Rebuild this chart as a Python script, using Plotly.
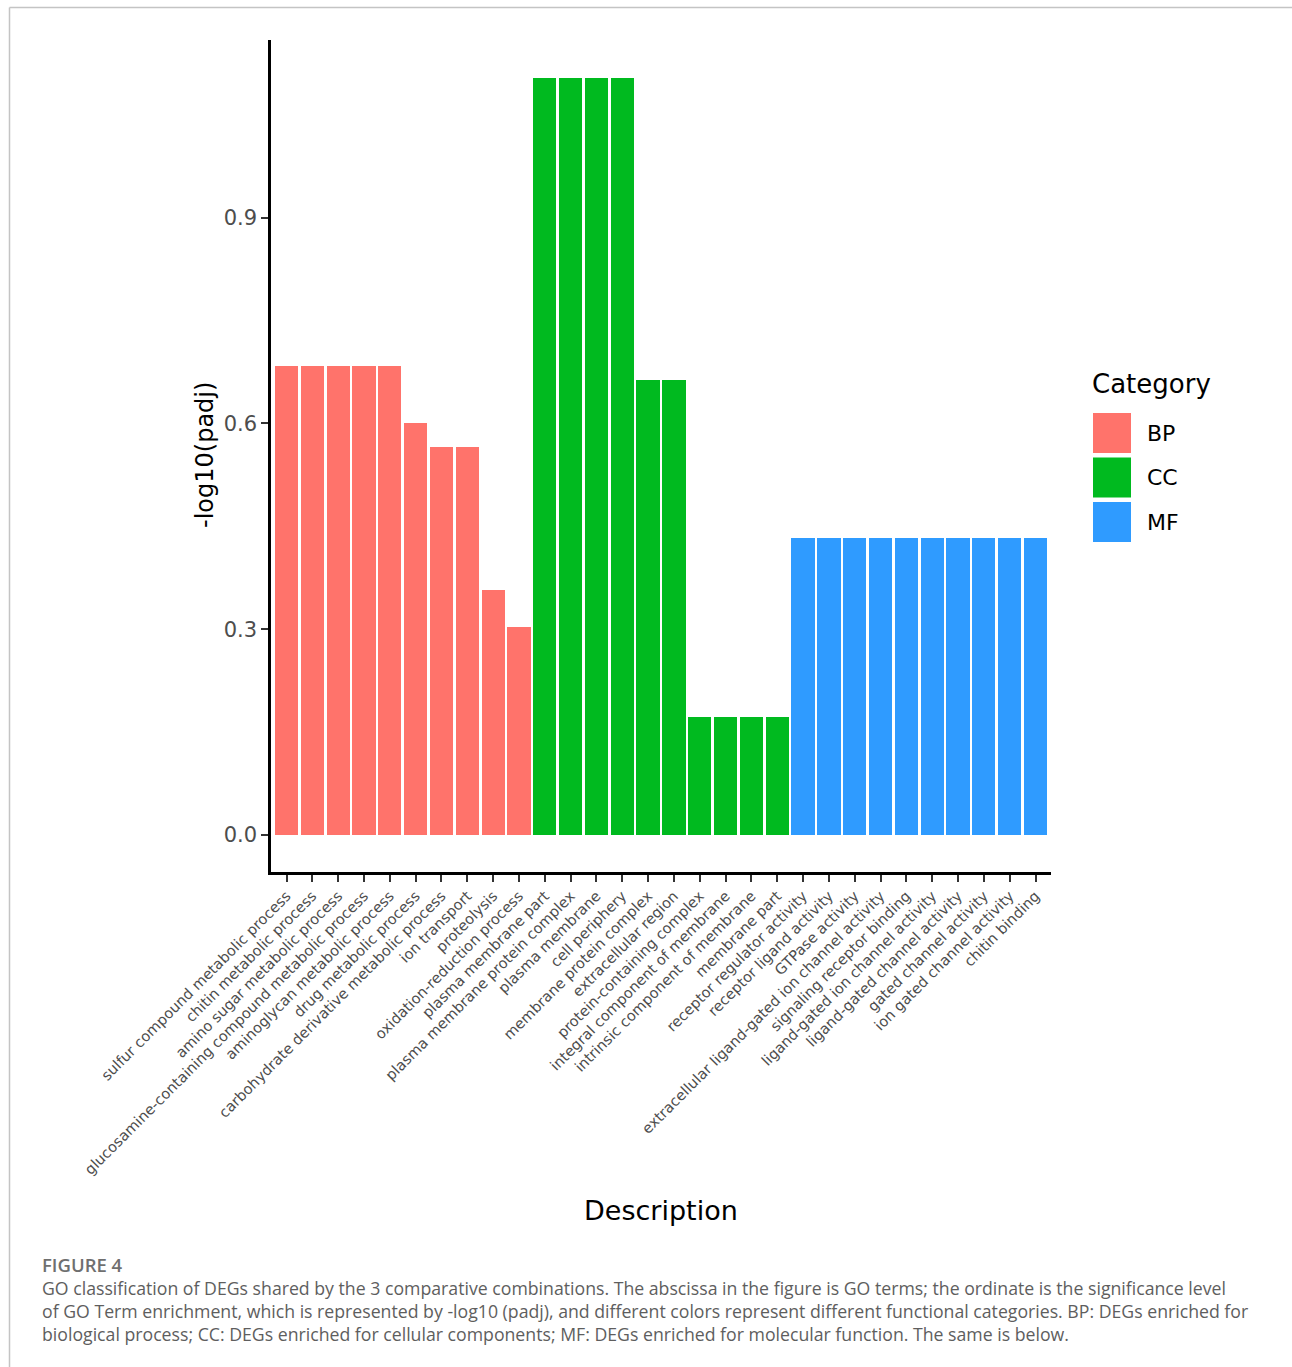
import plotly.graph_objects as go

# GO terms, their functional category and -log10(padj)
terms = [
    "sulfur compound metabolic process",
    "chitin metabolic process",
    "amino sugar metabolic process",
    "glucosamine-containing compound metabolic process",
    "aminoglycan metabolic process",
    "drug metabolic process",
    "carbohydrate derivative metabolic process",
    "ion transport",
    "proteolysis",
    "oxidation-reduction process",
    "plasma membrane part",
    "plasma membrane protein complex",
    "plasma membrane",
    "cell periphery",
    "membrane protein complex",
    "extracellular region",
    "protein-containing complex",
    "integral component of membrane",
    "intrinsic component of membrane",
    "membrane part",
    "receptor regulator activity",
    "receptor ligand activity",
    "GTPase activity",
    "extracellular ligand-gated ion channel activity",
    "signaling receptor binding",
    "ligand-gated ion channel activity",
    "ligand-gated channel activity",
    "gated channel activity",
    "ion gated channel activity",
    "chitin binding",
]
category = [
    "BP", "BP", "BP", "BP", "BP", "BP", "BP", "BP", "BP", "BP",
    "CC", "CC", "CC", "CC", "CC", "CC", "CC", "CC", "CC", "CC",
    "MF", "MF", "MF", "MF", "MF", "MF", "MF", "MF", "MF", "MF",
]
neg_log10_padj = [
    0.684, 0.684, 0.684, 0.684, 0.684, 0.601, 0.566, 0.566, 0.357, 0.303,
    1.104, 1.104, 1.104, 1.104, 0.664, 0.664, 0.172, 0.172, 0.172, 0.172,
    0.433, 0.433, 0.433, 0.433, 0.433, 0.433, 0.433, 0.433, 0.433, 0.433,
]
categories = ["BP", "CC", "MF"]
y_ticks = [0.0, 0.3, 0.6, 0.9]

colors = {"BP": "#FF736B", "CC": "#00BA1F", "MF": "#2F9BFF"}

W, H = 1292, 1367
L, R, T, B = 271, 1051, 40, 872  # plot area in pixels


def px(x):
    return (x - L) / (R - L)


def py(y):
    return (B - y) / (B - T)


fig = go.Figure()
for cat in categories:
    idx = [i for i, c in enumerate(category) if c == cat]
    fig.add_trace(go.Bar(
        x=idx,
        y=[neg_log10_padj[i] for i in idx],
        width=0.9,
        marker=dict(color=colors[cat], line=dict(width=0)),
        name=cat,
        showlegend=False,
    ))

axis_font = dict(family="DejaVu Sans", color="#4d4d4d")

fig.update_layout(
    width=W, height=H,
    margin=dict(l=L, r=W - R, t=T, b=H - B, pad=0),
    paper_bgcolor="white", plot_bgcolor="white",
    bargap=0,
    barmode="overlay",
    xaxis=dict(
        range=[-0.6, 29.6],
        tickmode="array",
        tickvals=list(range(len(terms))),
        ticktext=terms,
        tickangle=-45,
        tickfont=dict(size=14.6, **axis_font),
        ticks="outside", ticklen=7, tickwidth=2, tickcolor="#333333",
        showline=True, linecolor="black", linewidth=2.5,
        showgrid=False, zeroline=False,
    ),
    yaxis=dict(
        range=[-0.054, 1.159],
        tickmode="array",
        tickvals=y_ticks,
        ticktext=[f"{v:.1f}" for v in y_ticks],
        tickfont=dict(size=21, **axis_font),
        ticks="outside", ticklen=7, tickwidth=2, tickcolor="#333333",
        showline=True, linecolor="black", linewidth=2.5,
        showgrid=False, zeroline=False,
    ),
)


def note(text, x, y, size, color="black", family="DejaVu Sans", xanchor="center", **kw):
    fig.add_annotation(text=text, x=px(x), y=py(y), xref="paper", yref="paper",
                       xanchor=xanchor, yanchor="middle", showarrow=False,
                       font=dict(family=family, size=size, color=color, **kw.pop("font", {})), **kw)


# axis titles
note("-log10(padj)", 205, 455, 24, textangle=-90)
note("Description", 661, 1210, 27)

# legend
note("Category", 1090, 384, 26, xanchor="left")
for k, cat in enumerate(categories):
    top = 413 + k * 44.5
    fig.add_shape(type="rect", xref="paper", yref="paper",
                  x0=px(1093), x1=px(1131), y0=py(top), y1=py(top + 40),
                  fillcolor=colors[cat], line=dict(width=0))
    note(cat, 1145, top + 20, 22, xanchor="left")

# page frame
fig.add_shape(type="line", xref="paper", yref="paper",
              x0=px(9.5), x1=px(1292), y0=py(7.5), y1=py(7.5),
              line=dict(color="#c4c4c4", width=1.5))
fig.add_shape(type="line", xref="paper", yref="paper",
              x0=px(9.5), x1=px(9.5), y0=py(7.5), y1=py(1367),
              line=dict(color="#c4c4c4", width=1.5))

# caption
caption = [
    "GO classification of DEGs shared by the 3 comparative combinations. The abscissa in the figure is GO terms; the ordinate is the significance level",
    "of GO Term enrichment, which is represented by -log10 (padj), and different colors represent different functional categories. BP: DEGs enriched for",
    "biological process; CC: DEGs enriched for cellular components; MF: DEGs enriched for molecular function. The same is below.",
]
note("FIGURE 4", 40, 1264, 18.5, color="#6f6f6f", family="Open Sans", xanchor="left",
     font=dict(weight=600))
for i, line in enumerate(caption):
    note(line, 40, 1288 + i * 23.2, 17.7, color="#5e5e5e", family="Open Sans", xanchor="left")

fig.write_html("out.html")
